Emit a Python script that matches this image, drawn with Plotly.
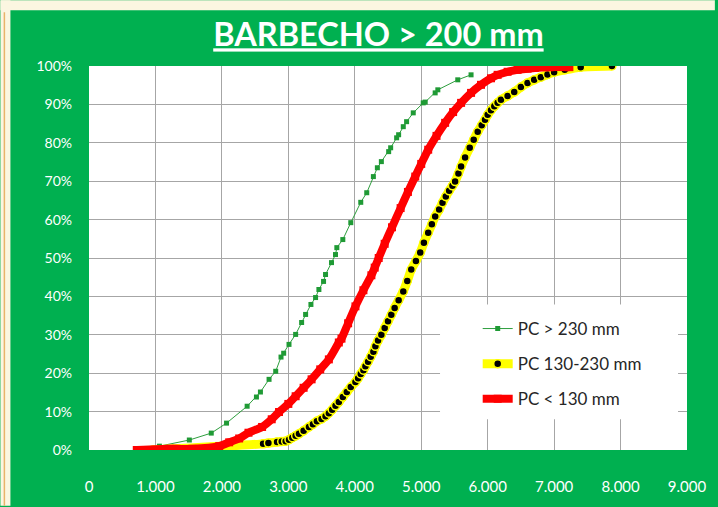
import plotly.graph_objects as go

# PC > 230 mm
green_x = [1060, 1510, 1840, 2070, 2380, 2520, 2580, 2710, 2810, 2890, 2930, 3010, 3110,
           3200, 3260, 3340, 3410, 3460, 3530, 3560, 3650, 3710, 3730, 3820, 3940, 4090,
           4180, 4280, 4340, 4400, 4510, 4540, 4630, 4660, 4730, 4780, 4880, 5030, 5060,
           5210, 5250, 5550, 5750]
green_y = [0.010, 0.026, 0.044, 0.070, 0.114, 0.138, 0.151, 0.184, 0.205, 0.242, 0.252,
           0.275, 0.301, 0.332, 0.353, 0.379, 0.397, 0.418, 0.439, 0.457, 0.488, 0.509,
           0.527, 0.548, 0.592, 0.645, 0.670, 0.712, 0.735, 0.751, 0.777, 0.787, 0.813,
           0.821, 0.842, 0.855, 0.878, 0.904, 0.906, 0.930, 0.938, 0.964, 0.977]

# PC 130-230 mm
yellow_x = [958, 2620, 2700, 2830, 2900, 2960, 3010, 3060, 3110, 3160, 3230, 3310, 3370,
            3430, 3500, 3560, 3610, 3660, 3710, 3760, 3820, 3880, 3940, 4010, 4050, 4090,
            4130, 4160, 4200, 4240, 4280, 4310, 4350, 4400, 4450, 4500, 4550, 4600, 4660,
            4730, 4790, 4850, 4920, 4985, 5040, 5105, 5160, 5210, 5270, 5320, 5370, 5420,
            5470, 5510, 5560, 5600, 5660, 5730, 5790, 5850, 5910, 5960, 6000, 6050, 6100,
            6150, 6200, 6300, 6400, 6500, 6600, 6700, 6800, 6900, 7000, 7160, 7400, 7870]
yellow_y = [0.000, 0.016, 0.018, 0.021, 0.022, 0.023, 0.027, 0.032, 0.037, 0.042, 0.050,
            0.060, 0.067, 0.075, 0.081, 0.088, 0.096, 0.105, 0.115, 0.125, 0.138, 0.151,
            0.164, 0.177, 0.187, 0.198, 0.208, 0.218, 0.230, 0.243, 0.256, 0.270, 0.285,
            0.300, 0.318, 0.335, 0.352, 0.370, 0.390, 0.413, 0.440, 0.470, 0.492, 0.514,
            0.540, 0.566, 0.588, 0.608, 0.626, 0.644, 0.660, 0.675, 0.688, 0.699, 0.720,
            0.738, 0.762, 0.787, 0.808, 0.829, 0.846, 0.860, 0.873, 0.885, 0.895, 0.904,
            0.912, 0.922, 0.932, 0.945, 0.956, 0.964, 0.971, 0.978, 0.984, 0.990, 0.997,
            1.000]

# PC < 130 mm
red_x = [719, 1213, 1317, 1557, 1960, 2110, 2260, 2400, 2605, 2750, 2860, 3000, 3110,
         3230, 3350, 3480, 3610, 3760, 3800, 3900, 4010, 4130, 4250, 4300, 4360, 4450,
         4560, 4690, 4800, 4910, 5000, 5105, 5230, 5360, 5480, 5600, 5750, 5900, 6050,
         6150, 6300, 6450, 6600, 6710, 6930, 7230]
red_y = [0.000, 0.003, 0.003, 0.003, 0.010, 0.020, 0.030, 0.045, 0.060, 0.080, 0.099,
         0.120, 0.140, 0.162, 0.184, 0.210, 0.236, 0.280, 0.290, 0.330, 0.374, 0.416,
         0.455, 0.475, 0.500, 0.537, 0.580, 0.630, 0.672, 0.712, 0.745, 0.782, 0.818,
         0.852, 0.880, 0.904, 0.930, 0.951, 0.968, 0.977, 0.985, 0.990, 0.993, 0.995,
         0.997, 0.997]

x_ticks = [0, 1000, 2000, 3000, 4000, 5000, 6000, 7000, 8000, 9000]
x_labels = ["0", "1.000", "2.000", "3.000", "4.000", "5.000", "6.000", "7.000", "8.000", "9.000"]

GREEN_BG = "#00B050"
BEIGE = "#FBF6E1"
FONT = "Lato"

fig = go.Figure()

fig.add_trace(go.Scatter(
    x=green_x, y=green_y, name="PC > 230 mm", mode="lines+markers", legendgroup="a",
    line=dict(color="#2E9E3E", width=1),
    marker=dict(symbol="square", size=5, color="#1F9A35"),
))
fig.add_trace(go.Scatter(
    x=yellow_x, y=yellow_y, name="PC 130-230 mm", mode="lines+markers", legendgroup="b",
    line=dict(color="#FFFF00", width=9, shape="spline", smoothing=0.6),
    marker=dict(symbol="circle", size=8, color="black", line=dict(color="#FFFF00", width=1.5)),
))
fig.add_trace(go.Scatter(
    x=red_x, y=red_y, name="PC < 130 mm", mode="lines+markers", legendgroup="c",
    line=dict(color="#FF0000", width=8, shape="spline", smoothing=0.8),
    marker=dict(symbol="square", size=8, color="#FF0000"),
))

fig.update_layout(
    width=718, height=507,
    margin=dict(l=89, r=28, t=66, b=56),
    paper_bgcolor=GREEN_BG,
    plot_bgcolor="white",
    font=dict(family=FONT, color="white", size=14),
    title=dict(
        text="<b>BARBECHO > 200 mm</b>",
        x=0.484, xref="paper", xanchor="center",
        y=0.931, yref="container", yanchor="middle",
        font=dict(family=FONT, size=32.5, color="white", lineposition="under"),
    ),
    legend=dict(
        x=0.650, y=0.362, xanchor="left", yanchor="top",
        bgcolor="rgba(0,0,0,0)", font=dict(color="#262626", size=17, family=FONT),
        tracegroupgap=10, traceorder="grouped",
    ),
    shapes=[
        # white box behind the legend
        dict(type="rect", xref="paper", yref="paper", x0=0.587, x1=0.985, y0=0.08, y1=0.379,
             fillcolor="white", line_width=0, layer="above"),
        # beige frame strips outside the green chart area
        dict(type="rect", xref="paper", yref="paper", x0=-0.1481, x1=-0.1314, y0=-0.1455, y1=1.1714,
             fillcolor=BEIGE, line_width=0, layer="above"),
        dict(type="rect", xref="paper", yref="paper", x0=-0.1481, x1=1.0466, y0=1.1455, y1=1.1714,
             fillcolor=BEIGE, line_width=0, layer="above"),
        dict(type="line", xref="paper", yref="paper", x0=-0.1415, x1=-0.1415, y0=-0.1455, y1=1.14,
             line=dict(color="#E9B36A", width=1.5), layer="above"),
    ],
)

fig.update_xaxes(
    range=[0, 9000], tickvals=x_ticks, ticktext=x_labels, tickfont_size=15,
    showgrid=True, gridcolor="#A6A6A6", gridwidth=1,
    zeroline=False, showline=False, ticks="", ticklabelstandoff=26,
)
fig.update_yaxes(
    range=[0, 1], dtick=0.1, tickformat=".0%",
    showgrid=True, gridcolor="#A6A6A6", gridwidth=1,
    zeroline=False, showline=False, ticks="", ticklabelstandoff=16,
)

fig.write_html("out.html", config={"displayModeBar": False},
               post_script="document.body.style.margin='0px';")
